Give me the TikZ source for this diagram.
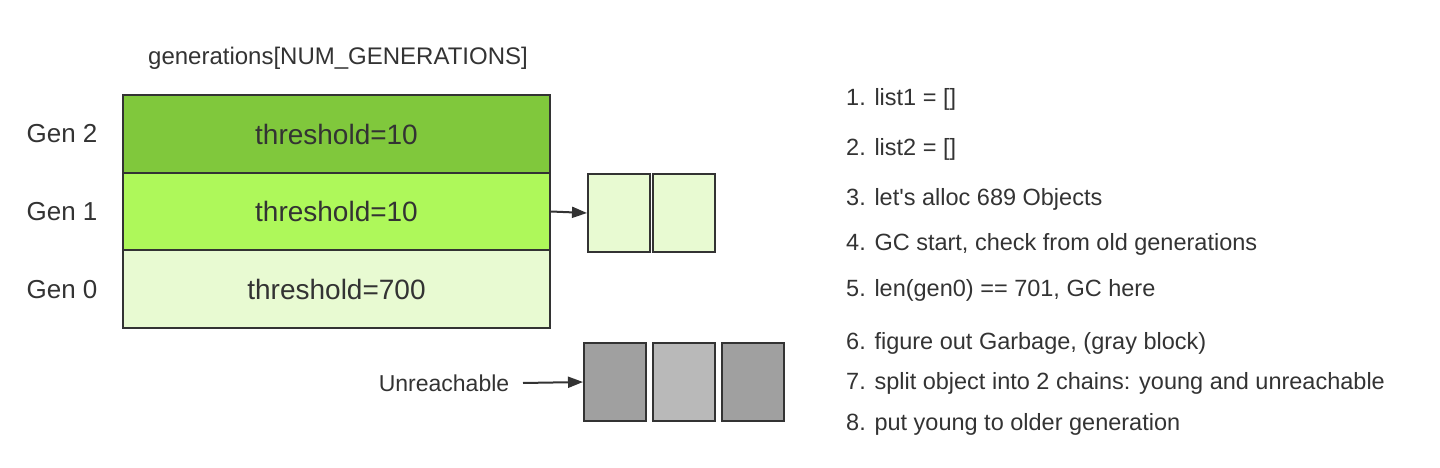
\documentclass[tikz,border=0pt]{standalone}
\usepackage{fontspec}
\setmainfont{Liberation Sans}
\usetikzlibrary{arrows.meta}
\definecolor{ink}{HTML}{333333}
\definecolor{gentwo}{HTML}{80C83C}
\definecolor{genone}{HTML}{AEF85A}
\definecolor{genzero}{HTML}{E8FAD2}
\definecolor{graydark}{HTML}{A0A0A0}
\definecolor{graylight}{HTML}{B9B9B9}
\tikzset{
  row/.style={draw=ink, line width=2pt, minimum width=427pt, minimum height=77.5pt, inner sep=0pt, text=ink, font=\fontsize{28}{32}\selectfont},
  obj/.style={draw=ink, line width=2pt, minimum width=62pt, minimum height=78pt, inner sep=0pt},
  lbl/.style={text=ink, inner sep=0pt},
  step text/.style={text=ink, inner sep=0pt, anchor=west, font=\fontsize{23.5}{27}\selectfont},
  conn/.style={draw=ink, line width=2pt, -{Triangle[length=15pt,width=11pt]}}
}
\begin{document}
\begin{tikzpicture}[x=1pt,y=-1pt]
\useasboundingbox (0,0) rectangle (1440,468);
\node[lbl, font=\fontsize{24}{28}\selectfont] (title) at (338,58) {generations[NUM\_GENERATIONS]};
\node[row, fill=gentwo] (g2) at (336.5,134) {threshold=10};
\node[row, fill=genone] (g1) at (336.5,211.5) {threshold=10};
\node[row, fill=genzero] (g0) at (336.5,289) {threshold=700};
\node[lbl, font=\fontsize{26}{30}\selectfont] (l2) at (62,134) {Gen 2};
\node[lbl, font=\fontsize{26}{30}\selectfont] (l1) at (62,212) {Gen 1};
\node[lbl, font=\fontsize{26}{30}\selectfont] (l0) at (62,290) {Gen 0};
\node[obj, fill=genzero] (y1) at (619,213) {};
\node[obj, fill=genzero] (y2) at (684,213) {};
\draw[conn] (g1.east) -- (y1.west);
\node[obj, fill=graydark] (u1) at (615,382) {};
\node[obj, fill=graylight] (u2) at (684,382) {};
\node[obj, fill=graydark] (u3) at (753,382) {};
\node[lbl, font=\fontsize{23}{27}\selectfont] (un) at (444,383) {Unreachable};
\coordinate (unstart) at (523,383);
\draw[conn] (unstart) -- (u1.west);
\node[step text] (s1) at (846,99) {1. list1 = []};
\node[step text] (s2) at (846,149) {2. list2 = []};
\node[step text] (s3) at (846,199) {3. let\textquotesingle s alloc 689 Objects};
\node[step text] (s4) at (846,244) {4. GC start, check from old generations};
\node[step text] (s5) at (846,290) {5. len(gen0) == 701, GC here};
\node[step text] (s6) at (846,343) {6. figure out Garbage, (gray block)};
\node[step text] (s7) at (846,383) {7. split object into 2 chains: young and unreachable};
\node[step text] (s8) at (846,424) {8. put young to older generation};
\end{tikzpicture}
\end{document}
